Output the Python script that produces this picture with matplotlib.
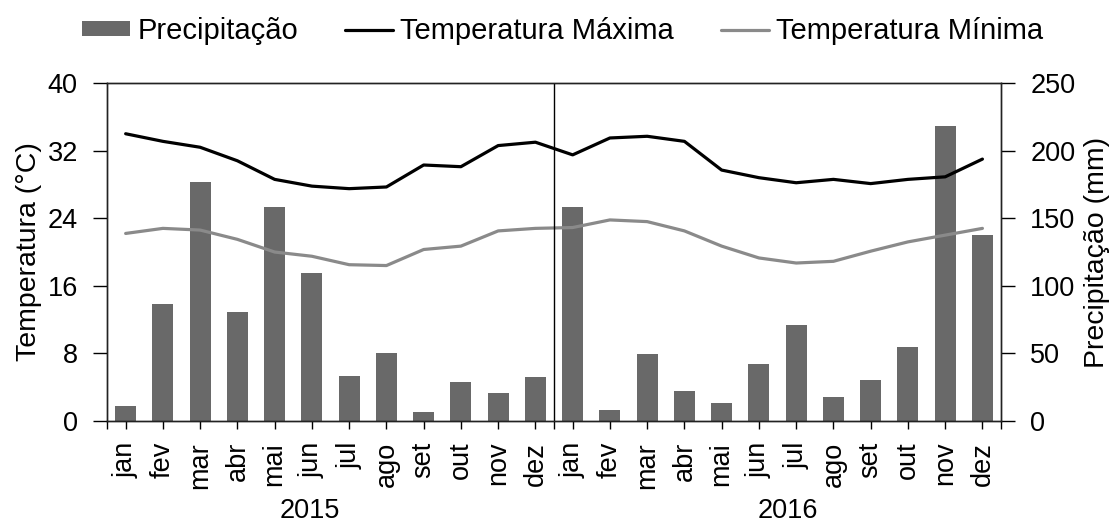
import matplotlib
matplotlib.use("Agg")
import matplotlib.pyplot as plt
import numpy as np

plt.rcParams['font.family'] = ['Liberation Sans', 'DejaVu Sans']

months = ["jan", "fev", "mar", "abr", "mai", "jun", "jul", "ago", "set", "out", "nov", "dez"]
years = ["2015", "2016"]

precip = [11.3, 86.5, 176.8, 80.6, 158.3, 109.5, 33.3, 50.5, 6.9, 28.8, 21.0, 32.3,
          158.3, 7.9, 49.8, 21.9, 13.1, 41.9, 70.8, 17.5, 30.6, 55.0, 218.0, 137.3]
tmax = [34.0, 33.1, 32.4, 30.8, 28.6, 27.8, 27.5, 27.7, 30.3, 30.1, 32.6, 33.0,
        31.5, 33.5, 33.7, 33.1, 29.7, 28.8, 28.2, 28.6, 28.1, 28.6, 28.9, 31.0]
tmin = [22.2, 22.8, 22.6, 21.5, 20.0, 19.5, 18.5, 18.4, 20.3, 20.7, 22.5, 22.8,
        22.9, 23.8, 23.6, 22.5, 20.7, 19.3, 18.7, 18.9, 20.1, 21.2, 22.0, 22.8]

labels = months * len(years)
x = np.arange(len(labels))

fig = plt.figure(figsize=(11.16, 5.26), dpi=100)
ax = fig.add_axes([0.0959, 0.1996, 0.8011, 0.6425])
ax2 = ax.twinx()

bars = ax2.bar(x, precip, width=0.56, color="#696969", label="Precipitação", zorder=1)
ax2.set_ylim(0, 250)
ax2.set_yticks(np.arange(0, 251, 50))

ax.set_zorder(ax2.get_zorder() + 1)
ax.patch.set_visible(False)
l1, = ax.plot(x, tmax, color="black", lw=2.3, label="Temperatura Máxima", solid_capstyle="round")
l2, = ax.plot(x, tmin, color="#8a8a8a", lw=2.3, label="Temperatura Mínima", solid_capstyle="round")
ax.set_ylim(0, 40)
ax.set_yticks(np.arange(0, 41, 8))
ax.set_xlim(-0.5, len(labels) - 0.5)
ax.set_xticks(x)
ax.set_xticklabels(labels, rotation=90)
ax.set_xticks([-0.5, 11.5, 23.5], minor=True)
ax.axvline(11.5, color="black", lw=1)

for a in (ax, ax2):
    for s in a.spines.values():
        s.set_color("#222222")
        s.set_linewidth(1)
ax.tick_params(axis="y", labelsize=19.5, length=10, width=1, pad=11)
ax2.tick_params(axis="y", labelsize=19.5, length=10, width=1, pad=11)
ax.tick_params(axis="x", which="major", labelsize=19.5, length=6, width=1, pad=9)
ax.tick_params(axis="x", which="minor", length=6, width=1)

ax.set_ylabel("Temperatura (°C)", fontsize=20.5, labelpad=4)
ax2.set_ylabel("Precipitação (mm)", fontsize=20.5, labelpad=6)

year_pos = [4.95, 17.78]
for xp, yr in zip(year_pos, years):
    ax.text(xp, -0.265, yr, transform=ax.get_xaxis_transform(),
            ha="center", va="center", fontsize=19.5)

fig.legend(handles=[bars, l1, l2], loc="center", bbox_to_anchor=(0.504, 0.941),
           ncol=3, frameon=False, fontsize=21, handlelength=1.65, handleheight=0.45,
           handletextpad=0.25, columnspacing=1.6)

fig.savefig("out.png", dpi=100)
